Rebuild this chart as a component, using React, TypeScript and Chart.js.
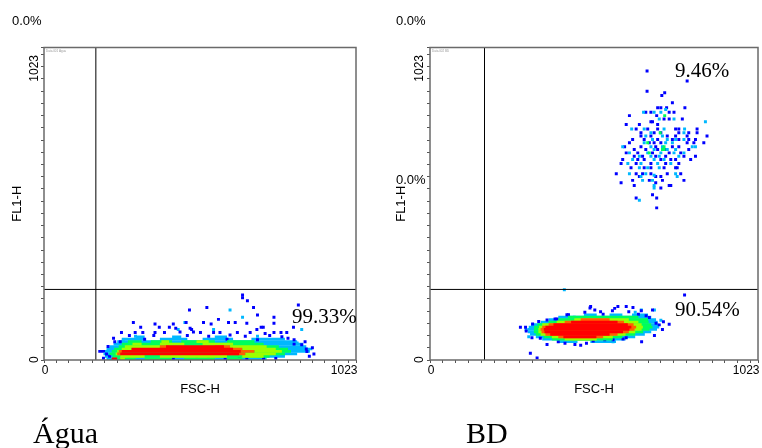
import React, { useEffect, useRef } from "react";
import { Chart, registerables } from "chart.js";

Chart.register(...registerables);

// ---------------- DATA ----------------
type Run = [number, number, number]; // [FL1 channel, FSC start, FSC end]
type Pt = [number, number]; // [FSC, FL1]

const AXIS_MIN = 0;
const AXIS_MAX = 1023;
const axisTickLabels = ["0", "1023"];
const tickValues = [
  0, 40, 80, 120, 160, 200, 240, 280, 320, 360, 400, 440, 480, 520, 560, 600,
  640, 680, 720, 760, 800, 840, 880, 920, 960, 1000, 1023,
];
const axisTitles = ["FSC-H", "FL1-H"];
const gateFSC = 170;
const gateFL1 = 231;

const panelCaptions = ["Água", "BD"];
const aguaQuadLabels = ["0.0%", "99.33%"];
const bdQuadLabels = ["0.0%", "0.0%", "9.46%", "90.54%"];
const fileTags = ["Data.001 Agua", "Data.002 BD"];

// ----- Água -----
const aguaRedRuns: Run[] = [
  [20, 250, 640], [28, 255, 645], [36, 287, 620], [44, 400, 590], [4, 222, 240],
];
const aguaOrangeRuns: Run[] = [
  [20, 600, 660], [28, 620, 690], [36, 600, 650], [44, 380, 410], [44, 560, 610],
  [28, 245, 262], [20, 240, 252],
];
const aguaLimeRuns: Run[] = [
  [4, 250, 265], [12, 250, 330], [12, 380, 600], [12, 650, 720], [20, 235, 250],
  [20, 660, 760], [28, 240, 255], [28, 690, 780], [36, 255, 287], [36, 650, 760],
  [44, 265, 380], [44, 610, 730], [52, 290, 320], [52, 380, 460], [52, 520, 620],
  [60, 385, 410], [60, 500, 540],
];
const aguaGreenRuns: Run[] = [
  [4, 240, 300], [4, 330, 420], [4, 460, 560], [4, 600, 650], [12, 225, 740],
  [20, 215, 790], [28, 222, 810], [36, 230, 800], [44, 245, 770], [52, 255, 720],
  [60, 275, 320], [60, 350, 420], [60, 450, 560], [60, 600, 690],
];
const aguaCyanRuns: Run[] = [
  [4, 205, 730], [12, 200, 790], [20, 195, 830], [28, 200, 872], [36, 205, 880],
  [44, 215, 860], [52, 228, 850], [60, 240, 830], [68, 255, 330], [68, 380, 470],
  [68, 520, 620], [68, 680, 790], [76, 300, 330], [76, 420, 450], [76, 560, 600],
];
const aguaBlueRuns: Run[] = [[28, 178, 205]];
const aguaBluePts: Pt[] = [
  [651, 213], [651, 204], [667, 194], [834, 180], [534, 172], [687, 172], [477, 164],
  [700, 147], [754, 140], [754, 120], [572, 133], [293, 123], [364, 118], [424, 118],
  [466, 123], [523, 123], [548, 118], [605, 123], [627, 123], [665, 120], [712, 107],
  [317, 107], [378, 107], [411, 107], [432, 104], [479, 104], [484, 100], [254, 90],
  [299, 90], [324, 90], [364, 90], [395, 90], [446, 92], [490, 92], [513, 90],
  [556, 90], [577, 90], [634, 90], [676, 90], [698, 100], [719, 107], [725, 87],
  [754, 90], [777, 90], [796, 90], [818, 107], [228, 71], [232, 60], [800, 71],
  [856, 60], [845, 50], [880, 40], [862, 28], [885, 20], [870, 12], [280, 80],
  [360, 80], [470, 80], [540, 78], [610, 82], [660, 78], [740, 80], [780, 76],
  [820, 66], [210, 44], [205, 20], [215, 12], [195, 6], [279, 5], [424, 5],
  [501, 5], [539, 5], [594, 5], [640, 5], [665, 5], [720, 5], [760, 5],
  [250, 60], [820, 52], [860, 36], [330, 68], [600, 68], [700, 66],
];
const aguaCyanPts: Pt[] = [
  [610, 164], [651, 140], [845, 100], [556, 100], [440, 100], [300, 78], [700, 78],
  [462, 123], [260, 65], [820, 40], [830, 56],
];

// ----- BD -----
const bdRedRuns: Run[] = [
  [124, 440, 585], [116, 385, 617], [108, 360, 628], [100, 355, 622], [92, 357, 602],
  [84, 375, 560], [76, 416, 519],
];
const bdOrangeRuns: Run[] = [
  [132, 470, 560], [124, 420, 605], [116, 370, 635], [108, 350, 643], [100, 345, 638],
  [92, 348, 620], [84, 360, 585], [76, 400, 540],
];
const bdLimeRuns: Run[] = [
  [132, 450, 620], [124, 395, 650], [116, 350, 660], [108, 340, 664], [100, 338, 660],
  [92, 338, 640], [84, 345, 610], [76, 380, 570], [68, 420, 520],
];
const bdGreenRuns: Run[] = [
  [140, 430, 650], [132, 400, 680], [124, 370, 682], [116, 335, 690], [108, 325, 694],
  [100, 324, 685], [92, 324, 665], [84, 330, 640], [76, 355, 600], [68, 380, 570],
];
const bdCyanRuns: Run[] = [
  [148, 480, 520], [148, 560, 600], [148, 630, 680], [140, 400, 690], [132, 370, 705],
  [124, 345, 710], [116, 315, 712], [108, 308, 715], [100, 305, 708], [92, 305, 690],
  [84, 312, 670], [76, 330, 640], [68, 350, 610], [60, 400, 460], [60, 500, 580],
];
const bdLowBluePts: Pt[] = [
  [282, 107], [298, 107], [313, 22], [334, 7], [339, 126], [344, 71], [365, 131],
  [390, 134], [396, 134], [427, 148], [432, 148], [483, 156], [499, 170], [514, 164],
  [532, 158], [501, 175], [569, 161], [576, 169], [586, 175], [612, 175], [633, 172],
  [659, 161], [674, 145], [694, 164], [684, 139], [715, 115], [705, 120], [746, 117],
  [318, 73], [365, 51], [421, 55], [452, 51], [488, 55], [602, 69], [612, 73],
  [509, 62], [545, 66], [571, 66], [794, 213], [300, 95], [320, 118], [540, 150],
  [620, 158], [650, 150], [728, 125], [725, 100], [700, 80], [660, 60], [400, 60],
  [470, 48],
];
const bdLowCyanPts: Pt[] = [
  [419, 230], [659, 164], [700, 164], [308, 76], [324, 104], [571, 60], [720, 130],
  [640, 156], [450, 140], [300, 100],
];
const bdHighBluePts: Pt[] = [
  [677, 946], [802, 913], [677, 880], [732, 875], [723, 866], [756, 842],
  [710, 826], [720, 826], [738, 826], [795, 826],
  [673, 811], [689, 811], [746, 811], [761, 811],
  [622, 800], [707, 800],
  [730, 789], [746, 789], [787, 789],
  [689, 780], [694, 780],
  [612, 771], [653, 771], [710, 771],
  [643, 756], [679, 756], [710, 756], [766, 756], [776, 756], [833, 756],
  [658, 744], [699, 744], [720, 744], [776, 744], [807, 744], [833, 744],
  [658, 733], [689, 733], [740, 733], [766, 733], [802, 733], [864, 733],
  [632, 722], [668, 722], [710, 722], [756, 722], [776, 722], [807, 722], [828, 722],
  [622, 711], [684, 711], [699, 711], [720, 711], [802, 711], [854, 711], [823, 711],
  [607, 698], [658, 698], [704, 698], [756, 698], [776, 698],
  [637, 689], [673, 689], [710, 689], [735, 689], [807, 689],
  [612, 678], [648, 678], [694, 678], [746, 678], [782, 678],
  [637, 667], [663, 667], [704, 667], [735, 667], [792, 667], [828, 667],
  [601, 656], [648, 656], [668, 656], [720, 656], [751, 656], [766, 656], [813, 656],
  [596, 643], [643, 643], [689, 643], [735, 643], [776, 643],
  [627, 629], [668, 629], [689, 629], [730, 629], [766, 629], [771, 629],
  [581, 610], [643, 610], [663, 610], [689, 610], [740, 610], [782, 610],
  [653, 601], [704, 601], [720, 601],
  [632, 588], [684, 588], [725, 588], [792, 588],
  [596, 580], [704, 580],
  [637, 571], [746, 571], [751, 571],
  [720, 563], [694, 541], [643, 530], [707, 530], [707, 498],
];
const bdHighCyanPts: Pt[] = [
  [735, 820], [666, 811], [699, 811], [720, 811], [715, 789], [761, 789], [859, 780],
  [629, 756], [668, 756], [730, 756], [794, 756], [689, 744], [792, 744], [673, 733],
  [725, 733], [694, 722], [740, 722], [766, 722], [792, 722], [668, 711], [735, 711],
  [756, 711], [601, 698], [689, 698], [725, 698], [828, 698], [818, 698], [699, 689],
  [740, 689], [766, 689], [622, 678], [679, 678], [720, 678], [761, 678], [792, 678],
  [653, 667], [689, 667], [715, 667], [776, 667], [632, 656], [699, 656], [730, 656],
  [617, 643], [658, 643], [710, 643], [751, 643], [653, 629], [679, 629], [715, 629],
  [622, 610], [673, 610], [766, 610], [658, 601], [699, 605], [771, 601], [663, 588],
  [694, 588], [699, 571], [699, 563], [653, 523],
];
const bdHighGreenPts: Pt[] = [
  [732, 800], [718, 744], [679, 711], [730, 698], [725, 689], [730, 689], [684, 678],
];

// ---------------- STYLE / LAYOUT ----------------
const W = 381;
const H = 448;
const COLORS = {
  blue: "#0000ff",
  cyan: "#00b8ff",
  green: "#00ff5a",
  lime: "#9cff00",
  orange: "#ff6000",
  red: "#ff0000",
};
const SANS = '"Liberation Sans", Arial, sans-serif';
const SERIF = '"Liberation Serif", "Times New Roman", serif';

type Layer = { runs?: Run[]; pts?: Pt[]; color: string; order: number };
type TextItem = { text: string; x: number; y: number; font: string; align?: CanvasTextAlign };

interface PanelSpec {
  offset: number;
  area: { left: number; right: number; top: number; bottom: number };
  yTickX: number;
  yTitleX: number;
  tag: string;
  layers: Layer[];
  texts: TextItem[];
}

const aguaSpec: PanelSpec = {
  offset: 0,
  area: { left: 44, right: 356, top: 47.5, bottom: 360 },
  yTickX: 35,
  yTitleX: 17,
  tag: fileTags[0],
  layers: [
    { runs: aguaRedRuns, color: COLORS.red, order: 1 },
    { runs: aguaOrangeRuns, color: COLORS.orange, order: 2 },
    { runs: aguaLimeRuns, color: COLORS.lime, order: 3 },
    { runs: aguaGreenRuns, color: COLORS.green, order: 4 },
    { pts: aguaBluePts, color: COLORS.blue, order: 5 },
    { pts: aguaCyanPts, color: COLORS.cyan, order: 5 },
    { runs: aguaCyanRuns, color: COLORS.cyan, order: 6 },
    { runs: aguaBlueRuns, color: COLORS.blue, order: 7 },
  ],
  texts: [
    { text: aguaQuadLabels[0], x: 12, y: 25, font: `13px ${SANS}` },
    { text: aguaQuadLabels[1], x: 292, y: 323, font: `21px ${SERIF}` },
    { text: panelCaptions[0], x: 33, y: 443, font: `30px ${SERIF}` },
  ],
};

const bdSpec: PanelSpec = {
  offset: 381,
  area: { left: 49, right: 379, top: 47.5, bottom: 360 },
  yTickX: 38.5,
  yTitleX: 20,
  tag: fileTags[1],
  layers: [
    { runs: bdRedRuns, color: COLORS.red, order: 1 },
    { runs: bdOrangeRuns, color: COLORS.orange, order: 2 },
    { runs: bdLimeRuns, color: COLORS.lime, order: 3 },
    { pts: bdHighGreenPts, color: COLORS.green, order: 3 },
    { runs: bdGreenRuns, color: COLORS.green, order: 4 },
    { pts: bdLowBluePts, color: COLORS.blue, order: 5 },
    { pts: bdLowCyanPts, color: COLORS.cyan, order: 5 },
    { pts: bdHighCyanPts, color: COLORS.cyan, order: 4.5 },
    { pts: bdHighBluePts, color: COLORS.blue, order: 5 },
    { runs: bdCyanRuns, color: COLORS.cyan, order: 6 },
  ],
  texts: [
    { text: bdQuadLabels[0], x: 15, y: 25, font: `13px ${SANS}` },
    { text: bdQuadLabels[1], x: 15, y: 183.5, font: `13px ${SANS}` },
    { text: bdQuadLabels[2], x: 294, y: 77, font: `21px ${SERIF}` },
    { text: bdQuadLabels[3], x: 294, y: 316, font: `21px ${SERIF}` },
    { text: panelCaptions[1], x: 85, y: 443, font: `30px ${SERIF}` },
  ],
};

function buildDatasets(spec: PanelSpec, rowPx: number): any[] {
  const ds: any[] = [];
  ds.push({
    data: [{ x: gateFSC, y: AXIS_MIN }, { x: gateFSC, y: AXIS_MAX }],
    showLine: true, borderColor: "#000", borderWidth: 1, pointRadius: 0, order: 0,
  });
  ds.push({
    data: [{ x: AXIS_MIN, y: gateFL1 }, { x: AXIS_MAX, y: gateFL1 }],
    showLine: true, borderColor: "#000", borderWidth: 1, pointRadius: 0, order: 0,
  });
  for (const layer of spec.layers) {
    if (layer.runs) {
      for (const [y, x1, x2] of layer.runs) {
        ds.push({
          data: [{ x: x1, y }, { x: x2, y }],
          showLine: true,
          borderColor: layer.color,
          borderWidth: rowPx,
          borderCapStyle: "butt",
          pointRadius: 0,
          tension: 0,
          fill: false,
          order: layer.order,
        });
      }
    }
    if (layer.pts) {
      ds.push({
        data: layer.pts.map(([x, y]) => ({ x, y })),
        showLine: false,
        pointStyle: "rect",
        pointRadius: 2.1,
        pointBorderWidth: 0,
        backgroundColor: layer.color,
        borderColor: layer.color,
        order: layer.order,
      });
    }
  }
  return ds;
}

function rotText(ctx: CanvasRenderingContext2D, text: string, x: number, y: number, align: CanvasTextAlign) {
  ctx.save();
  ctx.translate(x, y);
  ctx.rotate(-Math.PI / 2);
  ctx.textAlign = align;
  ctx.textBaseline = "middle";
  ctx.fillText(text, 0, 0);
  ctx.restore();
}

function makeDecor(spec: PanelSpec) {
  return {
    id: "decor",
    afterDatasetsDraw(chart: any) {
      const { ctx, chartArea: a } = chart;
      ctx.save();
      ctx.strokeStyle = "#6a6a6a";
      ctx.lineWidth = 1.5;
      ctx.strokeRect(a.left, a.top, a.right - a.left, a.bottom - a.top);
      ctx.fillStyle = "#9a9a9a";
      ctx.font = `3px ${SANS}`;
      ctx.textAlign = "left";
      ctx.textBaseline = "alphabetic";
      ctx.fillText(spec.tag, a.left + 2, a.top + 4.5);
      ctx.restore();
    },
    afterDraw(chart: any) {
      const { ctx, chartArea: a } = chart;
      const xs = chart.scales.x;
      const ys = chart.scales.y;
      ctx.save();
      ctx.fillStyle = "#000";
      ctx.font = `12px ${SANS}`;
      ctx.textBaseline = "alphabetic";
      ctx.textAlign = "center";
      ctx.fillText(axisTickLabels[0], xs.getPixelForValue(AXIS_MIN) + 1, 374);
      ctx.textAlign = "right";
      ctx.fillText(axisTickLabels[1], xs.getPixelForValue(AXIS_MAX) + 1.5, 374);
      rotText(ctx, axisTickLabels[0], spec.yTickX, ys.getPixelForValue(AXIS_MIN) + 3, "left");
      rotText(ctx, axisTickLabels[1], spec.yTickX, ys.getPixelForValue(AXIS_MAX) + 7.5, "right");
      ctx.font = `13px ${SANS}`;
      ctx.textAlign = "center";
      ctx.fillText(axisTitles[0], (a.left + a.right) / 2, 393);
      rotText(ctx, axisTitles[1], spec.yTitleX, (a.top + a.bottom) / 2, "center");
      for (const t of spec.texts) {
        ctx.font = t.font;
        ctx.textAlign = t.align || "left";
        ctx.textBaseline = "alphabetic";
        ctx.fillText(t.text, t.x, t.y);
      }
      ctx.restore();
    },
  };
}

function Panel({ spec }: { spec: PanelSpec }) {
  const ref = useRef<HTMLCanvasElement | null>(null);
  useEffect(() => {
    if (!ref.current) return;
    const a = spec.area;
    const rowPx = ((a.bottom - a.top) * 8) / (AXIS_MAX - AXIS_MIN) + 0.3;
    const setTicks = (s: any) => {
      s.ticks = tickValues.map((v) => ({ value: v }));
    };
    const gridOpts = {
      display: true,
      drawOnChartArea: false,
      drawTicks: true,
      tickLength: 3,
      color: "#555",
      lineWidth: 1,
    };
    const chart = new Chart(ref.current, {
      type: "scatter",
      data: { datasets: buildDatasets(spec, rowPx) },
      options: {
        animation: false,
        responsive: false,
        maintainAspectRatio: false,
        events: [],
        layout: { padding: { left: 0, right: W - a.right, top: a.top, bottom: 0 } },
        plugins: { legend: { display: false }, tooltip: { enabled: false } },
        scales: {
          x: {
            type: "linear",
            position: "bottom",
            min: AXIS_MIN,
            max: AXIS_MAX,
            afterBuildTicks: setTicks,
            afterFit: (s: any) => {
              s.height = H - a.bottom;
            },
            ticks: { display: false },
            grid: gridOpts,
            border: { display: false },
          },
          y: {
            type: "linear",
            position: "left",
            min: AXIS_MIN,
            max: AXIS_MAX,
            afterBuildTicks: setTicks,
            afterFit: (s: any) => {
              s.width = a.left;
            },
            ticks: { display: false },
            grid: gridOpts,
            border: { display: false },
          },
        },
      } as any,
      plugins: [makeDecor(spec)],
    });
    return () => chart.destroy();
  }, [spec]);
  return (
    <canvas
      ref={ref}
      width={W}
      height={H}
      style={{ position: "absolute", left: spec.offset, top: 0, width: W, height: H }}
    />
  );
}

export default function App() {
  return (
    <div style={{ position: "absolute", left: 0, top: 0, width: 762, height: 448, background: "#fff", overflow: "hidden" }}>
      <Panel spec={aguaSpec} />
      <Panel spec={bdSpec} />
    </div>
  );
}
